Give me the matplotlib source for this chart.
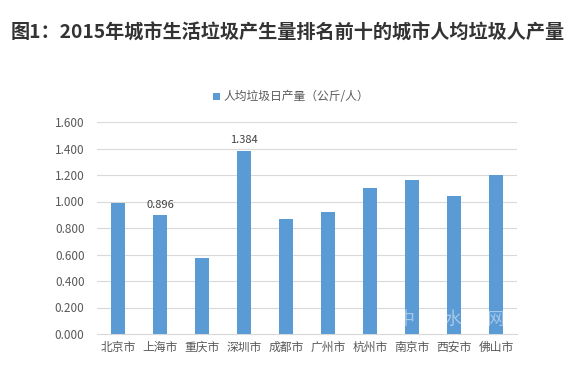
import matplotlib
matplotlib.use('Agg')
import matplotlib.pyplot as plt
import numpy as np

plt.rcParams['font.family'] = ['Noto Sans CJK SC', 'DejaVu Sans']

cities = ['北京市', '上海市', '重庆市', '深圳市', '成都市', '广州市', '杭州市', '南京市', '西安市', '佛山市']
per_capita = [0.99, 0.896, 0.57, 1.384, 0.87, 0.92, 1.10, 1.16, 1.04, 1.20]
labelled = {1: '0.896', 3: '1.384'}
y_ticks = [0, 0.2, 0.4, 0.6, 0.8, 1.0, 1.2, 1.4, 1.6]

fig = plt.figure(figsize=(5.76, 3.79), dpi=100)
ax = fig.add_axes([97/576, 1 - 334/379, 420/576, 212/379])

x = np.arange(len(cities))
ax.bar(x, per_capita, width=0.31, color='#5B9BD5', label='人均垃圾日产量（公斤/人）', zorder=3)

for i, txt in labelled.items():
    ax.text(x[i], per_capita[i] + 0.04, txt, ha='center', va='bottom', fontsize=8, color='#404040')

ax.set_xlim(-0.5, len(cities) - 0.5)
ax.set_ylim(0, 1.6)
ax.set_yticks(y_ticks)
ax.set_yticklabels(['%.3f' % v for v in y_ticks])
ax.set_xticks(x)
ax.set_xticklabels(cities)
ax.tick_params(axis='both', length=0, labelsize=8.5, colors='#595959')
ax.tick_params(axis='y', pad=9)
ax.tick_params(axis='x', pad=5)
ax.grid(axis='y', color='#D9D9D9', linewidth=0.8, zorder=0)
for s in ['top', 'right', 'left']:
    ax.spines[s].set_visible(False)
ax.spines['bottom'].set_color('#D9D9D9')

fig.text(0.5, 1 - 33/379, '图1：2015年城市生活垃圾产生量排名前十的城市人均垃圾人产量',
         ha='center', va='center', fontsize=13.8, fontweight='bold', color='#333333')

fig.legend(loc='center', bbox_to_anchor=(291/576, 1 - 97/379), frameon=False,
           fontsize=8.5, handlelength=0.6, handleheight=0.6, handletextpad=0.3,
           labelcolor='#595959')

# watermark
for xp, ch in [(405, '中'), (452, '水'), (495, '网')]:
    fig.text(xp/576, 1 - 320/379, ch, ha='center', va='center', fontsize=13,
             color='white', alpha=0.45, zorder=5)

fig.savefig('out.png', dpi=100)
